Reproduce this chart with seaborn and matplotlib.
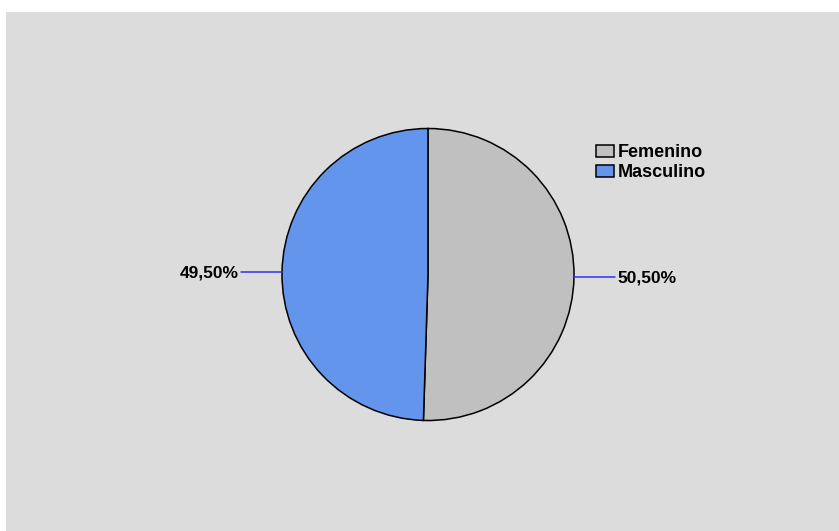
import numpy as np
import seaborn as sns
import matplotlib.pyplot as plt
from matplotlib.patches import Rectangle

# data
categories = ['Femenino', 'Masculino']
percentages = [50.50, 49.50]
colors = ['#C0C0C0', '#6495ED']

sns.set_style('white')
plt.rcParams['font.family'] = ['Liberation Sans', 'DejaVu Sans']

W, H = 839, 531
fig = plt.figure(figsize=(W / 100, H / 100), dpi=100)
fig.patch.set_facecolor('white')

# grey panel
fig.patches.append(Rectangle((6 / W, 0), 1 - 6 / W, 1 - 12 / H,
                             transform=fig.transFigure, facecolor='#DCDCDC',
                             edgecolor='none', zorder=-10))

cx, cy, r = 428, 274.5, 146
ax = fig.add_axes([(cx - r) / W, (H - cy - r) / H, 2 * r / W, 2 * r / H])
ax.set_facecolor('none')

wedges, _ = ax.pie(percentages, colors=colors, startangle=90, counterclock=False,
                   radius=1,
                   wedgeprops=dict(edgecolor='black', linewidth=1.1))
ax.set_xlim(-1, 1)
ax.set_ylim(-1, 1)
ax.set_aspect('equal')
ax.axis('off')

# leader lines and labels
seg = 41 / r
for w, v in zip(wedges, percentages):
    ang = np.deg2rad((w.theta1 + w.theta2) / 2)
    x0, y0 = np.cos(ang), np.sin(ang)
    side = 1 if x0 > 0 else -1
    x1 = x0 + side * seg
    ax.plot([x0, x1], [y0, y0], color='#3030F0', lw=1.1, clip_on=False)
    label = f'{v:.2f}'.replace('.', ',') + '%'
    ax.text(x1 + side * 2 / r, y0 - 1 / r, label, ha='left' if side > 0 else 'right',
            va='center', fontsize=12.5, fontweight='bold', color='black')

leg = ax.legend(wedges, categories, loc='upper left',
                bbox_to_anchor=(596 / W, 1 - 144 / H),
                bbox_transform=fig.transFigure, frameon=False,
                borderpad=0, borderaxespad=0, handlelength=1.0,
                handleheight=0.66, handletextpad=0.2, labelspacing=0.18,
                prop=dict(size=13, weight='bold'))
for t in leg.get_texts():
    t.set_color('black')

fig.savefig('out.png', dpi=100)
